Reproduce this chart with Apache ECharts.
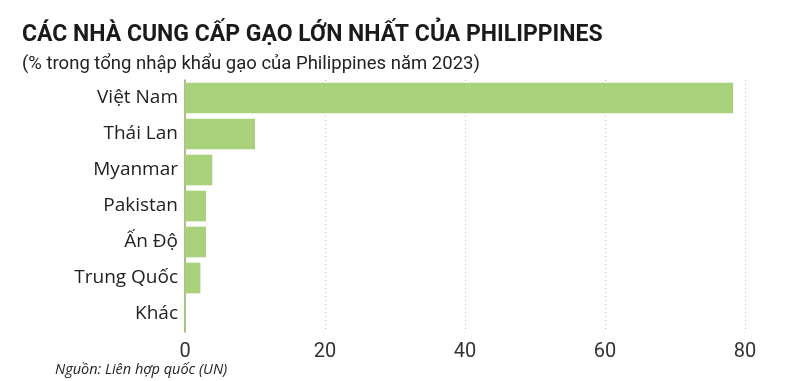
<!DOCTYPE html>
<html><head><meta charset="utf-8">
<script src="https://cdn.jsdelivr.net/npm/echarts@6/dist/echarts.min.js"></script>
<style>html,body{margin:0;padding:0;background:#fff}#c{width:800px;height:381px}</style>
</head><body><div id="c"></div>
<script>
const categories = ["Việt Nam","Thái Lan","Myanmar","Pakistan","Ấn Độ","Trung Quốc","Khác"];
const values = [78.3, 10.0, 3.9, 3.0, 3.0, 2.2, 0.1];
const xTicks = [0, 20, 40, 60, 80];
const titleText = "CÁC NHÀ CUNG CẤP GẠO LỚN NHẤT CỦA PHILIPPINES";
const subtitleText = "(% trong tổng nhập khẩu gạo của Philippines năm 2023)";
const sourceText = "Nguồn: Liên hợp quốc (UN)";

const chart = echarts.init(document.getElementById('c'), null, {renderer:'canvas'});
chart.setOption({
  animation:false,
  backgroundColor:'#fff',
  title:[
    {text:titleText, left:17, top:19, textStyle:{fontFamily:'Roboto, sans-serif', fontWeight:'bold', fontSize:23, color:'#1a1a1a'}},
    {text:subtitleText, left:17, top:50, textStyle:{fontFamily:'Roboto, sans-serif', fontWeight:'normal', fontSize:18.5, color:'#222'}},
    {text:sourceText, left:50, top:357, textStyle:{fontFamily:'"Open Sans", sans-serif', fontStyle:'italic', fontWeight:'normal', fontSize:14.5, color:'#222'}}
  ],
  grid:{left:185, right:55, top:80, bottom:49, containLabel:false},
  xAxis:{
    type:'value', min:0, max:80, interval:20,
    axisLine:{show:false}, axisTick:{show:false},
    axisLabel:{fontFamily:'Roboto, sans-serif', fontSize:20, color:'#333', margin:10,
      formatter:(v)=> xTicks.includes(v) ? String(v) : ''},
    splitLine:{show:true, lineStyle:{type:[1,3], color:'#bbb', width:1}}
  },
  yAxis:{
    type:'category', data:categories, inverse:true,
    axisLine:{show:true, lineStyle:{color:'#8aad6a', width:1.5}},
    axisTick:{show:false},
    axisLabel:{fontFamily:'"Open Sans", sans-serif', fontSize:19, color:'#222', margin:7}
  },
  series:[{type:'bar', data:values, barCategoryGap:'15%', itemStyle:{color:'#a9d07b'}}]
});
</script></body></html>
